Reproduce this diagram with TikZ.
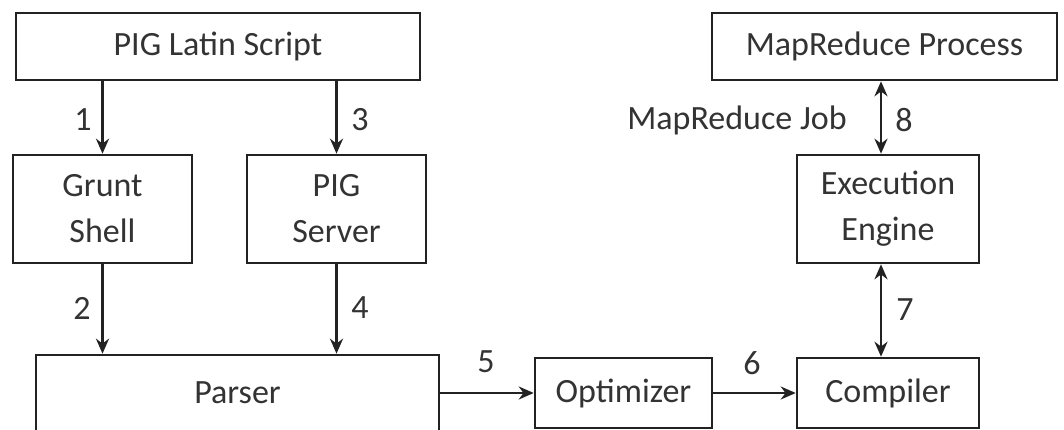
\documentclass[tikz,border=0pt]{standalone}
\usepackage{fontspec}
\setmainfont{Carlito}
\usetikzlibrary{arrows.meta}
\definecolor{ink}{HTML}{222222}
\definecolor{txt}{HTML}{333333}
\begin{document}
\begin{tikzpicture}[x=1pt,y=-1pt,
  box/.style={draw=ink,line width=2.6pt,inner sep=0pt,align=center,text=txt,
    font=\fontsize{34}{46}\selectfont},
  lbl/.style={inner sep=0pt,text=txt,font=\fontsize{34}{40}\selectfont},
  arr/.style={draw=ink,line width=2.6pt,-{Stealth[length=15pt,width=13pt]}},
  darr/.style={draw=ink,line width=2.6pt,{Stealth[length=15pt,width=13pt]}-{Stealth[length=15pt,width=13pt]}}]
\useasboundingbox[fill=white] (0,0) rectangle (1064,430);
\node[box,minimum width=404pt,minimum height=67pt] (pls) at (218,46.5) {PIG Latin Script};
\node[box,minimum width=179pt,minimum height=108pt] (grunt) at (102.5,209) {Grunt\\Shell};
\node[box,minimum width=179pt,minimum height=108pt] (server) at (336.5,209) {PIG\\Server};
\node[box,minimum width=403pt,minimum height=76pt] (parser) at (237.5,393) {Parser};
\node[box,minimum width=177pt,minimum height=70pt] (opt) at (623.5,393) {Optimizer};
\node[box,minimum width=182pt,minimum height=70pt] (comp) at (888,393) {Compiler};
\node[box,minimum width=182pt,minimum height=108pt] (exec) at (888,209) {Execution\\Engine};
\node[box,minimum width=345pt,minimum height=67pt] (mrp) at (884.5,46.5) {MapReduce Process};

\draw[arr] (grunt.north |- pls.south) -- (grunt.north);
\draw[arr] (server.north |- pls.south) -- (server.north);
\draw[arr] (grunt.south) -- (grunt.south |- parser.north);
\draw[arr] (server.south) -- (server.south |- parser.north);
\draw[arr] (parser.east) -- (opt.west);
\draw[arr] (opt.east) -- (comp.west);
\draw[darr] ([xshift=-7pt]exec.south) -- ([xshift=-7pt]exec.south |- comp.north);
\draw[darr] ([xshift=-7pt]exec.north) -- ([xshift=-7pt]exec.north |- mrp.south);

\node[lbl] (l1) at (83,120) {1};
\node[lbl] (l3) at (360,120) {3};
\node[lbl] (l2) at (82,308) {2};
\node[lbl] (l4) at (360,308) {4};
\node[lbl] (l5) at (486,362) {5};
\node[lbl] (l6) at (752,363) {6};
\node[lbl] (l7) at (905,310) {7};
\node[lbl] (l8) at (904,120) {8};
\node[lbl] (job) at (737,120) {MapReduce Job};
\end{tikzpicture}
\end{document}
